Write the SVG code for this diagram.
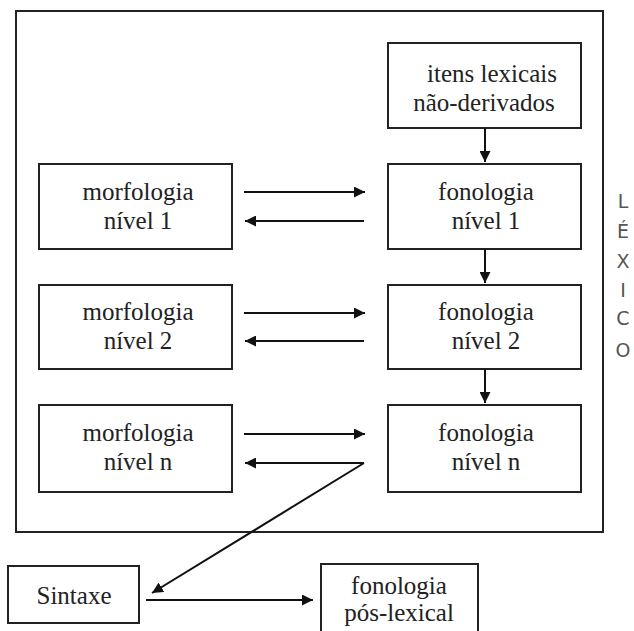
<svg xmlns="http://www.w3.org/2000/svg" width="634" height="631" viewBox="0 0 634 631">
<style>
.box{fill:none;stroke:#222;stroke-width:2}
.t{font-family:"Liberation Serif","Times New Roman",serif;font-size:25px;fill:#222;text-anchor:middle}
.lx{font-family:"DejaVu Sans","Liberation Sans",sans-serif;font-size:19px;fill:#555;text-anchor:middle}
.c{stroke:#111;stroke-width:2;fill:none;marker-end:url(#ah)}
</style>
<defs>
<marker id="ah" viewBox="0 0 10 10" refX="10" refY="5" markerWidth="5.5" markerHeight="5.5" markerUnits="strokeWidth" orient="auto">
<path d="M0,0 L10,5 L0,10 z" fill="#111"/>
</marker>
</defs>
<rect width="634" height="631" fill="#fff"/>
<g id="lexico">
<rect class="box" x="16" y="11" width="587" height="521"/>
<text class="lx" x="623" y="208">L</text>
<text class="lx" x="623" y="238">É</text>
<text class="lx" x="623" y="268">X</text>
<text class="lx" x="623" y="297">I</text>
<text class="lx" x="623" y="325">C</text>
<text class="lx" x="623" y="357">O</text>
</g>
<g id="itens">
<rect class="box" x="388" y="43" width="193" height="85"/>
<text class="t" x="492" y="82">itens lexicais</text>
<text class="t" x="484" y="111">não-derivados</text>
</g>
<g id="morf1">
<rect class="box" x="39" y="164" width="193" height="85"/>
<text class="t" x="138" y="200">morfologia</text>
<text class="t" x="138" y="229">nível 1</text>
</g>
<g id="fon1">
<rect class="box" x="388" y="164" width="193" height="85"/>
<text class="t" x="486" y="200">fonologia</text>
<text class="t" x="486" y="229">nível 1</text>
</g>
<g id="morf2">
<rect class="box" x="39" y="285" width="193" height="84"/>
<text class="t" x="138" y="320">morfologia</text>
<text class="t" x="138" y="349">nível 2</text>
</g>
<g id="fon2">
<rect class="box" x="388" y="285" width="193" height="84"/>
<text class="t" x="486" y="320">fonologia</text>
<text class="t" x="486" y="349">nível 2</text>
</g>
<g id="morfn">
<rect class="box" x="39" y="405" width="193" height="87"/>
<text class="t" x="138" y="441">morfologia</text>
<text class="t" x="138" y="470">nível n</text>
</g>
<g id="fonn">
<rect class="box" x="388" y="405" width="193" height="87"/>
<text class="t" x="486" y="441">fonologia</text>
<text class="t" x="486" y="470">nível n</text>
</g>
<g id="sintaxe">
<rect class="box" x="8" y="566" width="131" height="57"/>
<text class="t" x="74" y="604">Sintaxe</text>
</g>
<g id="poslex">
<rect class="box" x="321" y="564" width="157" height="80"/>
<text class="t" x="399" y="594">fonologia</text>
<text class="t" x="399" y="621">pós-lexical</text>
</g>
<g id="connectors">
<line class="c" x1="485" y1="128" x2="485" y2="162"/>
<line class="c" x1="485" y1="249" x2="485" y2="283"/>
<line class="c" x1="485" y1="369" x2="485" y2="403"/>
<line class="c" x1="244" y1="192" x2="365" y2="192"/>
<line class="c" x1="364" y1="221" x2="245" y2="221"/>
<line class="c" x1="244" y1="313" x2="365" y2="313"/>
<line class="c" x1="364" y1="341" x2="245" y2="341"/>
<line class="c" x1="244" y1="434" x2="365" y2="434"/>
<line class="c" x1="364" y1="463" x2="245" y2="463"/>
<line class="c" x1="364" y1="463" x2="152" y2="593"/>
<line class="c" x1="146" y1="600" x2="313" y2="600"/>
</g>
</svg>
